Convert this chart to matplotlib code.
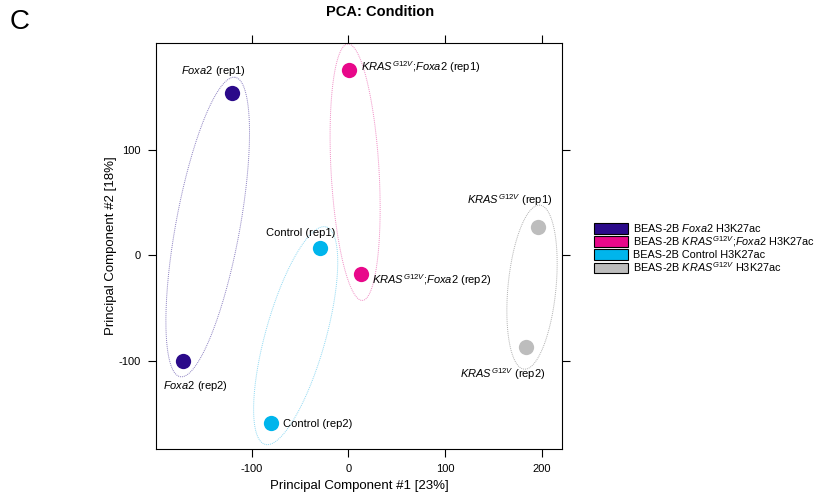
import numpy as np
import matplotlib
matplotlib.use("Agg")
import matplotlib.pyplot as plt
from matplotlib.patches import Patch

plt.rcParams['font.family'] = ['Liberation Sans', 'DejaVu Sans']
plt.rcParams['mathtext.fontset'] = 'custom'
plt.rcParams['mathtext.rm'] = 'Liberation Sans'
plt.rcParams['mathtext.it'] = 'Liberation Sans:italic'
plt.rcParams['axes.unicode_minus'] = False

# PCA coordinates
groups = ["Foxa2", "KRAS;Foxa2", "Control", "KRAS"]
pc1 = {"Foxa2": [-120, -171], "KRAS;Foxa2": [1, 13], "Control": [-29, -80], "KRAS": [196, 184]}
pc2 = {"Foxa2": [154, -100], "KRAS;Foxa2": [176, -18], "Control": [7, -159], "KRAS": [27, -87]}
colors = {"Foxa2": "#2B0A8A", "KRAS;Foxa2": "#E8088A", "Control": "#00B5EC", "KRAS": "#BDBDBD"}
ring_colors = {"Foxa2": "#8A7FC0", "KRAS;Foxa2": "#F08CC4", "Control": "#8ED8F2", "KRAS": "#B0B0B0"}

kras = r"$\mathit{KRAS}^{\mathit{G12V}}$"
foxa = r"$\mathit{Foxa2}$"
point_labels = {
    "Foxa2": [foxa + " (rep1)", foxa + " (rep2)"],
    "KRAS;Foxa2": [kras + ";" + foxa + " (rep1)", kras + ";" + foxa + " (rep2)"],
    "Control": ["Control (rep1)", "Control (rep2)"],
    "KRAS": [kras + " (rep1)", kras + " (rep2)"],
}
# label offsets in pixels, alignment
label_pos = {
    "Foxa2": [((-19, 22), "center"), ((12, -25), "center")],
    "KRAS;Foxa2": [((12, 3), "left"), ((11, -6), "left")],
    "Control": [((-20, 15), "center"), ((12, -1), "left")],
    "KRAS": [((-28, 27), "center"), ((-24, -27), "center")],
}
legend_labels = [
    "BEAS-2B " + foxa + " H3K27ac",
    "BEAS-2B " + kras + ";" + foxa + " H3K27ac",
    "BEAS-2B Control H3K27ac",
    "BEAS-2B " + kras + " H3K27ac",
]
ring_pad = {"Foxa2": (16, 32), "KRAS;Foxa2": (26, 24), "Control": (22, 30), "KRAS": (22, 24)}

fig = plt.figure(figsize=(8.21, 4.93), dpi=100)
ax = fig.add_axes([0.19, 0.0892, 0.4945, 0.8236])
ax.set_xlim(-199, 221)
ax.set_ylim(-183.5, 201.5)
ax.set_xticks([-100, 0, 100, 200])
ax.set_yticks([-100, 0, 100])
ax.tick_params(direction='out', length=6, width=0.8, labelsize=8, top=True, right=True, pad=5)
for s in ax.spines.values():
    s.set_linewidth(0.8)
ax.set_xlabel("Principal Component #1 [23%]", fontsize=9.5, labelpad=4)
ax.set_ylabel("Principal Component #2 [18%]", fontsize=9.5, labelpad=1)

fig.canvas.draw()
for g in groups:
    xs, ys = pc1[g], pc2[g]
    # ellipse around the two replicates, built in display space
    disp = ax.transData.transform(np.column_stack([xs, ys]))
    c = disp.mean(axis=0)
    d = disp[0] - disp[1]
    half = np.linalg.norm(d) / 2
    u = d / np.linalg.norm(d)
    v = np.array([-u[1], u[0]])
    a = half + ring_pad[g][0]
    b = ring_pad[g][1]
    t = np.linspace(0, 2 * np.pi, 300)
    ring = c + np.outer(np.cos(t) * a, u) + np.outer(np.sin(t) * b, v)
    ring = ax.transData.inverted().transform(ring)
    ax.plot(ring[:, 0], ring[:, 1], ls=(0, (1, 1)), lw=0.7, color=ring_colors[g], zorder=1)
    ax.plot(xs, ys, 'o', ms=11, color=colors[g], mec='none', zorder=3)
    for i in range(2):
        off, ha = label_pos[g][i]
        ax.annotate(point_labels[g][i], (xs[i], ys[i]), xytext=off, textcoords='offset pixels',
                    ha=ha, va='center', fontsize=8)

fig.text(380 / 821, 1 - 12 / 493, "PCA: Condition", ha='center', va='center',
         fontsize=10.5, fontweight='bold')
fig.text(10 / 821, 1 - 22 / 493, "C", ha='left', va='center', fontsize=20)

handles = [Patch(facecolor=colors[g], edgecolor='black', linewidth=0.8) for g in groups]
fig.legend(handles, legend_labels, loc='upper left', bbox_to_anchor=(594 / 821, 1 - 222 / 493),
           frameon=False, fontsize=7.8, handlelength=3.1, handleheight=1.15, labelspacing=0.0,
           borderpad=0, borderaxespad=0, handletextpad=0.5)

fig.savefig("out.png", dpi=100)
